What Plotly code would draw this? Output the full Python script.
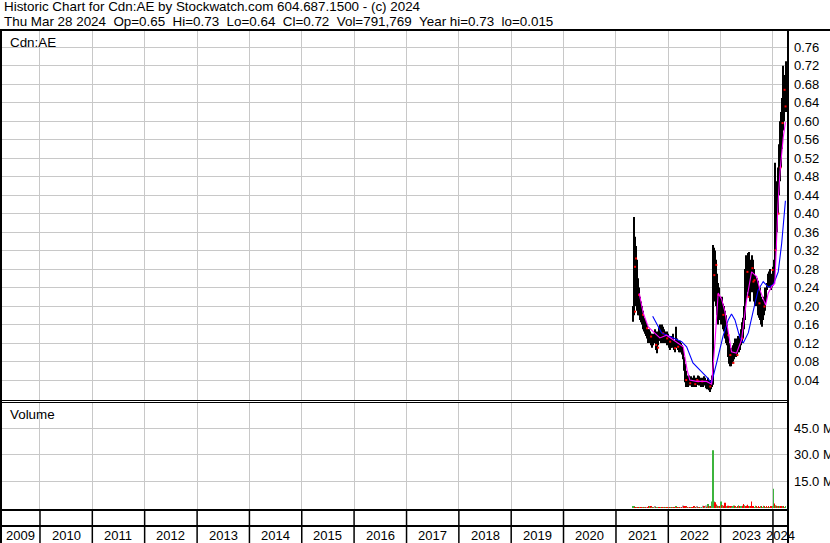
import plotly.graph_objects as go
import pandas as pd

W, H = 830, 543

# ---------------- data ----------------
week_start = "2021-04-30"
wk_hi = [0.200, 0.393, 0.350, 0.330, 0.300, 0.260, 0.240, 0.220, 0.210, 0.200,
         0.190, 0.175, 0.170, 0.165, 0.160, 0.150, 0.150, 0.145, 0.140, 0.140,
         0.135, 0.140, 0.150, 0.145, 0.140, 0.145, 0.155, 0.160, 0.155, 0.160,
         0.155, 0.150, 0.145, 0.140, 0.145, 0.140, 0.135, 0.130, 0.135, 0.130,
         0.140, 0.125, 0.125, 0.155, 0.130, 0.125, 0.120, 0.125, 0.120, 0.115,
         0.110, 0.090, 0.075, 0.060, 0.050, 0.045, 0.050, 0.045, 0.048, 0.045,
         0.042, 0.050, 0.045, 0.040, 0.045, 0.050, 0.048, 0.045, 0.040, 0.045,
         0.042, 0.048, 0.045, 0.040, 0.038, 0.045, 0.040, 0.035, 0.040, 0.050,
         0.332, 0.326, 0.320, 0.300, 0.270, 0.250, 0.240, 0.220, 0.210, 0.220,
         0.205, 0.200, 0.190, 0.180, 0.160, 0.135, 0.120, 0.110, 0.105, 0.110,
         0.115, 0.120, 0.130, 0.125, 0.130, 0.135, 0.130, 0.140, 0.150, 0.165,
         0.175, 0.200, 0.280, 0.310, 0.305, 0.315, 0.317, 0.300, 0.290, 0.310,
         0.300, 0.280, 0.265, 0.250, 0.260, 0.255, 0.230, 0.240, 0.220, 0.210,
         0.215, 0.220, 0.240, 0.250, 0.270, 0.275, 0.280, 0.265, 0.270, 0.285,
         0.300, 0.510, 0.440, 0.470, 0.500, 0.550, 0.600, 0.620, 0.650, 0.720,
         0.700, 0.680, 0.730]
wk_lo = [0.166, 0.180, 0.200, 0.200, 0.190, 0.180, 0.180, 0.170, 0.165, 0.160,
         0.150, 0.145, 0.140, 0.135, 0.130, 0.120, 0.125, 0.120, 0.115, 0.110,
         0.115, 0.120, 0.120, 0.105, 0.098, 0.115, 0.125, 0.125, 0.120, 0.125,
         0.120, 0.120, 0.120, 0.120, 0.115, 0.120, 0.110, 0.105, 0.110, 0.110,
         0.115, 0.105, 0.100, 0.110, 0.110, 0.105, 0.100, 0.100, 0.100, 0.095,
         0.085, 0.060, 0.035, 0.025, 0.025, 0.025, 0.030, 0.028, 0.030, 0.025,
         0.025, 0.028, 0.025, 0.025, 0.030, 0.030, 0.028, 0.030, 0.025, 0.028,
         0.025, 0.030, 0.028, 0.022, 0.020, 0.025, 0.018, 0.014, 0.020, 0.025,
         0.030, 0.220, 0.210, 0.200, 0.180, 0.160, 0.170, 0.170, 0.160, 0.165,
         0.150, 0.145, 0.130, 0.120, 0.115, 0.090, 0.075, 0.070, 0.070, 0.075,
         0.080, 0.085, 0.090, 0.090, 0.095, 0.100, 0.100, 0.105, 0.115, 0.120,
         0.130, 0.150, 0.170, 0.210, 0.230, 0.240, 0.220, 0.210, 0.230, 0.240,
         0.230, 0.210, 0.200, 0.215, 0.200, 0.180, 0.175, 0.170, 0.160, 0.155,
         0.170, 0.180, 0.190, 0.210, 0.235, 0.240, 0.240, 0.235, 0.240, 0.245,
         0.250, 0.280, 0.320, 0.360, 0.400, 0.440, 0.470, 0.500, 0.540, 0.580,
         0.600, 0.620, 0.620]
# volume in millions of shares, direction: 1 up, -1 down, 0 unchanged
wk_vol = [0.6, 0.9, 0.5, 0.4, 0.5, 0.3, 0.4, 0.3, 0.2, 0.5,
          0.3, 0.4, 0.2, 0.5, 0.3, 0.4, 0.8, 1.0, 0.6, 0.3,
          0.4, 0.3, 0.6, 0.4, 0.5, 0.3, 0.4, 0.2, 0.3, 0.4,
          0.3, 0.2, 0.5, 0.4, 0.3, 0.2, 0.4, 0.5, 0.3, 0.2,
          0.4, 0.3, 0.5, 0.8, 0.4, 0.3, 0.4, 0.3, 0.2, 0.5,
          1.4, 1.0, 0.9, 0.6, 0.4, 0.5, 0.3, 0.2, 0.4, 0.3,
          0.5, 1.0, 0.4, 0.3, 0.6, 0.3, 0.2, 0.4, 0.5, 0.3,
          1.2, 0.6, 0.4, 1.4, 0.5, 2.2, 1.0, 0.6, 0.8, 3.6,
          32.5, 3.6, 3.2, 2.0, 1.2, 0.8, 0.6, 1.0, 3.6, 1.5,
          1.2, 0.8, 3.0, 1.0, 0.6, 1.2, 0.8, 0.5, 0.6, 0.4,
          0.8, 1.4, 0.6, 0.5, 0.7, 1.5, 0.6, 1.0, 0.8, 1.2,
          2.2, 1.5, 1.0, 1.2, 1.8, 0.6, 0.9, 0.7, 3.6, 1.0,
          0.8, 0.5, 1.2, 0.6, 0.4, 0.8, 0.5, 1.0, 0.6, 0.5,
          1.2, 0.6, 0.4, 0.8, 0.5, 0.6, 0.4, 0.9, 0.6, 0.8,
          10.8, 2.5, 1.6, 1.2, 0.8, 1.0, 0.6, 1.0, 0.8, 0.6,
          0.9, 0.5, 0.6]
wk_dir = [1, 1, -1, -1, 1, -1, -1, 1, -1, -1,
          1, -1, 1, -1, 0, -1, -1, 1, -1, 1,
          -1, 1, 0, -1, 1, 1, -1, -1, 1, -1,
          -1, 1, -1, 1, -1, -1, 1, -1, 1, -1,
          1, -1, -1, 1, -1, -1, 1, -1, 0, -1,
          0, -1, -1, -1, 1, -1, 0, -1, 1, -1,
          -1, -1, 1, -1, 0, -1, 1, -1, 0, 1,
          0, -1, 1, 0, -1, 1, -1, 1, -1, 1,
          1, 1, -1, -1, 1, -1, 1, -1, 1, -1,
          1, -1, -1, -1, 1, -1, -1, 1, -1, 1,
          1, 1, -1, 1, -1, 1, -1, 1, 1, -1,
          -1, 1, -1, -1, -1, -1, 1, -1, -1, -1,
          -1, 1, 1, -1, 1, -1, -1, 1, -1, 1,
          1, -1, 1, -1, 1, -1, 1, -1, -1, 1,
          1, -1, 1, -1, 1, -1, 1, -1, -1, 1,
          -1, 1, 1]

# red close ticks (week index, price)
red_wk = [2, 3, 6, 2, 10, 14, 18, 23, 25, 30, 34, 37, 42, 45, 53, 57, 62, 64, 65, 69,
          77, 81, 83, 85, 90, 95, 97, 100, 104, 109, 114, 115, 119, 120, 121, 126,
          131, 139, 142, 145, 147, 149, 151, 152]
red_px = [0.285, 0.303, 0.224, 0.188, 0.181, 0.152, 0.134, 0.116, 0.110, 0.141,
          0.130, 0.123, 0.109, 0.112, 0.040, 0.033, 0.031, 0.040, 0.037, 0.037,
          0.026, 0.267, 0.289, 0.224, 0.181, 0.137, 0.094, 0.077, 0.094, 0.130,
          0.274, 0.220, 0.282, 0.253, 0.256, 0.206, 0.199, 0.278, 0.321, 0.400,
          0.500, 0.596, 0.668, 0.632]

# moving averages (read as points)
ma_fast_dates = ["2021-06-12", "2021-07-10", "2021-08-14", "2021-09-30", "2021-11-03",
                 "2021-12-20", "2022-02-28", "2022-04-15", "2022-05-12", "2022-05-31",
                 "2022-07-17", "2022-09-25", "2022-10-30", "2022-11-22", "2022-12-15",
                 "2023-01-08", "2023-01-31", "2023-02-23", "2023-03-18", "2023-04-22",
                 "2023-05-27", "2023-07-01", "2023-08-05", "2023-09-09", "2023-10-02",
                 "2023-11-11", "2023-11-29", "2023-12-23", "2024-01-14", "2024-01-25",
                 "2024-02-05", "2024-02-19", "2024-03-02", "2024-03-13", "2024-03-28"]
ma_fast = [0.228, 0.185, 0.155, 0.141, 0.131, 0.137, 0.123, 0.112, 0.062, 0.040,
           0.037, 0.037, 0.031, 0.119, 0.228, 0.215, 0.188, 0.141, 0.101, 0.098,
           0.127, 0.213, 0.274, 0.264, 0.235, 0.202, 0.228, 0.242, 0.249, 0.330,
           0.420, 0.490, 0.535, 0.565, 0.598]
ma_slow_dates = ["2021-09-14", "2021-11-15", "2022-01-13", "2022-04-04", "2022-05-09",
                 "2022-06-22", "2022-09-25", "2022-10-30", "2022-12-04", "2023-01-17",
                 "2023-02-23", "2023-03-18", "2023-04-11", "2023-05-16", "2023-06-08",
                 "2023-07-13", "2023-08-17", "2023-09-20", "2023-10-25", "2023-11-29",
                 "2024-01-03", "2024-02-07", "2024-03-02", "2024-03-25", "2024-03-28"]
ma_slow = [0.178, 0.142, 0.134, 0.123, 0.112, 0.077, 0.047, 0.034, 0.077, 0.134,
           0.170, 0.183, 0.170, 0.131, 0.120, 0.142, 0.190, 0.235, 0.253, 0.241,
           0.246, 0.274, 0.336, 0.415, 0.428]

years = list(range(2009, 2025))
price_ticks = [0.04, 0.08, 0.12, 0.16, 0.20, 0.24, 0.28, 0.32, 0.36, 0.40,
               0.44, 0.48, 0.52, 0.56, 0.60, 0.64, 0.68, 0.72, 0.76]
vol_ticks = [15, 30, 45]

header1 = "Historic Chart for Cdn:AE by Stockwatch.com 604.687.1500 - (c) 2024"
header2 = ("Thu Mar 28 2024  Op=0.65  Hi=0.73  Lo=0.64  Cl=0.72  "
           "Vol=791,769  Year hi=0.73  lo=0.015")

# ---------------- figure ----------------
X_START, X_END = "2009-03-28", "2024-04-15"
FONT = "Liberation Sans, Arial, sans-serif"
GRID = "#c8c8c8"


def py(p):  # pixel row -> paper y
    return 1 - p / H


wk_dates = pd.date_range(week_start, periods=len(wk_hi), freq="7D")
week_ms = 7 * 24 * 3600 * 1000
dir_color = {1: "#3cb43c", -1: "#ff0000", 0: "#a0a0a0"}

fig = go.Figure()
fig.add_trace(go.Bar(x=wk_dates, base=wk_lo,
                     y=[h - l for h, l in zip(wk_hi, wk_lo)],
                     width=week_ms, marker=dict(color="#000000", line=dict(width=0)),
                     xaxis="x", yaxis="y", hoverinfo="skip"))
fig.add_trace(go.Scatter(x=[wk_dates[i] for i in red_wk], y=red_px, mode="markers",
                         marker=dict(symbol="square", size=2, color="#ff0000",
                                     line=dict(width=0)),
                         xaxis="x", yaxis="y", hoverinfo="skip"))
fig.add_trace(go.Scatter(x=ma_slow_dates, y=ma_slow, mode="lines",
                         line=dict(color="#0000ff", width=1.1),
                         xaxis="x", yaxis="y", hoverinfo="skip"))
fig.add_trace(go.Scatter(x=ma_fast_dates, y=ma_fast, mode="lines",
                         line=dict(color="#ff00ff", width=1.1),
                         xaxis="x", yaxis="y", hoverinfo="skip"))
fig.add_trace(go.Bar(x=wk_dates, y=wk_vol, width=week_ms * 0.8,
                     marker=dict(color=[dir_color[d] for d in wk_dir], line=dict(width=0)),
                     xaxis="x2", yaxis="y2", hoverinfo="skip"))

xdom = [0, 788 / W]
xcommon = dict(type="date", range=[X_START, X_END], domain=xdom, showgrid=True,
               gridcolor=GRID, gridwidth=1, dtick="M12", tick0="2010-01-01",
               showticklabels=False, ticks="", zeroline=False, showline=False,
               automargin=False)

fig.update_layout(
    width=W, height=H, autosize=False,
    margin=dict(l=0, r=0, t=0, b=0, pad=0, autoexpand=False),
    paper_bgcolor="white", plot_bgcolor="white", showlegend=False,
    barmode="overlay", bargap=0.1, hovermode=False,
    xaxis=dict(anchor="y", **xcommon),
    xaxis2=dict(anchor="y2", matches="x", **xcommon),
    yaxis=dict(domain=[py(400), py(30)], range=[-0.00325, 0.7974], side="right",
               anchor="x", tickvals=price_ticks, ticktext=[f"{v:.2f}" for v in price_ticks],
               showgrid=True, gridcolor=GRID, zeroline=False, ticks="", automargin=False,
               ticklabelstandoff=5, tickfont=dict(family=FONT, size=13, color="#000000")),
    yaxis2=dict(domain=[py(510), py(402)], range=[-1.128, 59.77], side="right",
                anchor="x2", tickvals=vol_ticks, ticktext=[f"{v:.1f} M" for v in vol_ticks],
                showgrid=True, gridcolor=GRID, zeroline=False, ticks="", automargin=False,
                ticklabelstandoff=5, tickfont=dict(family=FONT, size=13, color="#000000")),
)

shapes = []
R = 788 / W
blk = "#000000"
# frame lines
shapes.append(dict(type="line", xref="paper", yref="paper", x0=0, x1=1, y0=py(30), y1=py(30),
                   line=dict(color=blk, width=2)))
shapes.append(dict(type="line", xref="paper", yref="paper", x0=0, x1=R, y0=py(400.5), y1=py(400.5),
                   line=dict(color=blk, width=1)))
shapes.append(dict(type="line", xref="paper", yref="paper", x0=0, x1=R, y0=py(402.5), y1=py(402.5),
                   line=dict(color=blk, width=1)))
shapes.append(dict(type="line", xref="paper", yref="paper", x0=0, x1=R, y0=py(510), y1=py(510),
                   line=dict(color=blk, width=2)))
shapes.append(dict(type="line", xref="paper", yref="paper", x0=0, x1=R, y0=py(526), y1=py(526),
                   line=dict(color=blk, width=2)))
shapes.append(dict(type="line", xref="paper", yref="paper", x0=1 / W, x1=1 / W, y0=py(30), y1=0,
                   line=dict(color=blk, width=2)))
shapes.append(dict(type="line", xref="paper", yref="paper", x0=R, x1=R, y0=py(30), y1=0,
                   line=dict(color=blk, width=2)))
# year separators in the date band
for y in years[1:]:
    shapes.append(dict(type="line", xref="x", yref="paper", x0=f"{y}-01-01", x1=f"{y}-01-01",
                       y0=py(510), y1=0, line=dict(color=blk, width=1.5)))
fig.update_layout(shapes=shapes)

ann = []
hfont = dict(family=FONT, size=13.4, color="#000000")
ann.append(dict(text=header1, xref="paper", yref="paper", x=2 / W, y=py(7),
                xanchor="left", yanchor="middle", showarrow=False, font=hfont))
ann.append(dict(text=header2.replace("  ", "\u00a0\u00a0"), xref="paper", yref="paper",
                x=2 / W, y=py(21), xanchor="left", yanchor="middle", showarrow=False, font=hfont))
ann.append(dict(text="Cdn:AE", xref="paper", yref="paper", x=8 / W, y=py(42),
                xanchor="left", yanchor="middle", showarrow=False, font=hfont))
ann.append(dict(text="Volume", xref="paper", yref="paper", x=8 / W, y=py(414),
                xanchor="left", yanchor="middle", showarrow=False, font=hfont))
xs, xe = pd.Timestamp(X_START), pd.Timestamp(X_END)
for y in years:
    a = max(pd.Timestamp(f"{y}-01-01"), xs)
    b = min(pd.Timestamp(f"{y + 1}-01-01"), xe)
    mid = a + (b - a) / 2
    ann.append(dict(text=str(y), xref="x", yref="paper", x=mid, y=py(535),
                    xanchor="center", yanchor="middle", showarrow=False,
                    font=dict(family=FONT, size=13, color="#000000")))
fig.update_layout(annotations=ann)

fig.write_html("out.html",
               config={"displayModeBar": False, "responsive": False},
               post_script="document.body.style.margin='0';"
                           "document.body.style.overflow='hidden';")
